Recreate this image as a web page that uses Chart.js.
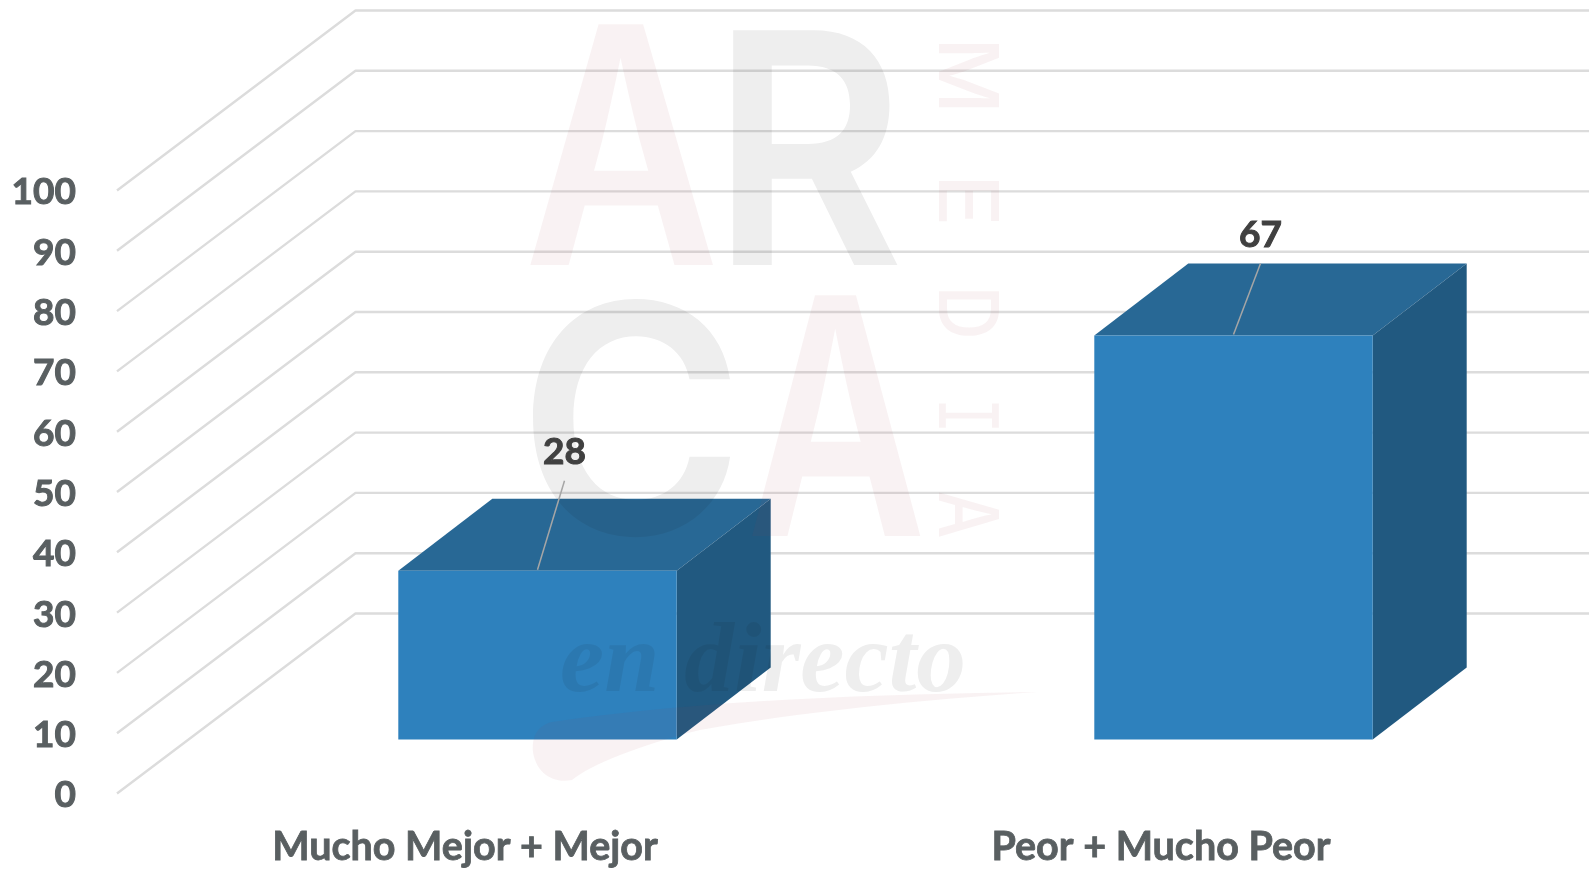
<!DOCTYPE html>
<html>
<head>
<meta charset="utf-8">
<title>Mucho Mejor / Peor</title>
<script src="https://cdn.jsdelivr.net/npm/chart.js@4/dist/chart.umd.min.js"></script>
<style>
  html, body { margin: 0; background: #fff; overflow: hidden; }
  canvas { display: block; }
</style>
</head>
<body>
<canvas id="chart" width="1589" height="869"></canvas>
<script>
const categories = ["Mucho Mejor + Mejor", "Peor + Mucho Peor"];
const values = [28, 67];
const tickLabels = [0, 10, 20, 30, 40, 50, 60, 70, 80, 90, 100];

// fake 3D: floor depth from the axis plane to the back wall
const floorDepth = { x: 238.5, y: 180 };
const barShift = { x: 72.5, y: 54 };
const barDepth = { x: 94, y: 72 };
const leaderRise = [90, 72];

const gridColor = "#dcdcdc";
const frontColor = "#2e81bd";
const topColor = "#286895";
const sideColor = "#215980";
const textColor = "#595f61";
const grey = "#eeeeee";
const pink = "rgba(170, 60, 70, 0.065)";

function fitText(ctx, text, font, x0, y0, w, h) {
  ctx.font = font;
  ctx.textAlign = "left";
  ctx.textBaseline = "alphabetic";
  const m = ctx.measureText(text);
  const tw = m.actualBoundingBoxLeft + m.actualBoundingBoxRight;
  const th = m.actualBoundingBoxAscent + m.actualBoundingBoxDescent;
  ctx.save();
  ctx.translate(x0, y0);
  ctx.scale(w / tw, h / th);
  ctx.fillText(text, m.actualBoundingBoxLeft, m.actualBoundingBoxAscent);
  ctx.restore();
}

function fitRotated(ctx, text, font, x0, x1, y0, y1) {
  ctx.save();
  ctx.translate(x1, y0);
  ctx.rotate(Math.PI / 2);
  fitText(ctx, text, font, 0, 0, y1 - y0, x1 - x0);
  ctx.restore();
}

const wallsPlugin = {
  id: "walls",
  // Lato sits a little high on its middle baseline, nudge the y labels down
  afterLayout(chart) {
    const yScale = chart.scales.y;
    const drawLabels = yScale.drawLabels.bind(yScale);
    yScale.drawLabels = (area) => {
      chart.ctx.save();
      chart.ctx.translate(0, 2);
      drawLabels(area);
      chart.ctx.restore();
    };
  },
  beforeDatasetsDraw(chart) {
    const { ctx, scales, chartArea } = chart;
    const width = chartArea.right - chartArea.left;
    ctx.save();
    ctx.strokeStyle = gridColor;
    ctx.lineWidth = 2.4;
    ctx.lineJoin = "round";
    tickLabels.forEach((tick) => {
      const y = scales.y.getPixelForValue(tick);
      ctx.beginPath();
      ctx.moveTo(chartArea.left, y);
      ctx.lineTo(chartArea.left + floorDepth.x, y - floorDepth.y);
      ctx.lineTo(chartArea.left + floorDepth.x + width, y - floorDepth.y);
      ctx.stroke();
    });
    ctx.restore();
  },
  beforeDatasetDraw(chart) {
    const { ctx } = chart;
    ctx.save();
    ctx.translate(barShift.x, -barShift.y);
    chart.getDatasetMeta(0).data.forEach((bar) => {
      const left = bar.x - bar.width / 2;
      const right = bar.x + bar.width / 2;
      ctx.fillStyle = topColor;
      ctx.beginPath();
      ctx.moveTo(left, bar.y);
      ctx.lineTo(left + barDepth.x, bar.y - barDepth.y);
      ctx.lineTo(right + barDepth.x, bar.y - barDepth.y);
      ctx.lineTo(right, bar.y);
      ctx.closePath();
      ctx.fill();
      ctx.fillStyle = sideColor;
      ctx.beginPath();
      ctx.moveTo(right, bar.y);
      ctx.lineTo(right + barDepth.x, bar.y - barDepth.y);
      ctx.lineTo(right + barDepth.x, bar.base - barDepth.y);
      ctx.lineTo(right, bar.base);
      ctx.closePath();
      ctx.fill();
    });
  },
  afterDatasetDraw(chart) {
    chart.ctx.restore();
  },
};

const watermarkPlugin = {
  id: "watermark",
  afterDatasetsDraw(chart) {
    const { ctx } = chart;
    const letterFont = "600 300px Inter";
    const smallFont = "500 100px Inter";
    ctx.save();
    ctx.fillStyle = pink;
    fitText(ctx, "A", letterFont, 528, 22, 189, 243);
    fitText(ctx, "A", letterFont, 750, 293, 174, 243);
    fitRotated(ctx, "M", smallFont, 939, 999, 44, 108);
    fitRotated(ctx, "E", smallFont, 939, 999, 181, 222);
    fitRotated(ctx, "D", smallFont, 939, 999, 291, 336);
    fitRotated(ctx, "I", "100px 'DejaVu Sans Mono'", 939, 999, 403, 428);
    fitRotated(ctx, "A", smallFont, 939, 999, 492, 537);
    ctx.beginPath();
    ctx.moveTo(1037, 692);
    ctx.bezierCurveTo(880, 694, 700, 700, 552, 722);
    ctx.bezierCurveTo(535, 726, 532, 740, 533, 752);
    ctx.bezierCurveTo(536, 772, 552, 784, 572, 780);
    ctx.bezierCurveTo(590, 765, 640, 745, 700, 730);
    ctx.bezierCurveTo(800, 712, 920, 700, 1037, 692);
    ctx.fill();
    ctx.globalCompositeOperation = "multiply";
    ctx.fillStyle = grey;
    fitText(ctx, "R", letterFont, 730, 28, 171, 237);
    fitText(ctx, "C", letterFont, 532, 295, 202, 244);
    fitText(ctx, "en directo", "italic 700 100px 'Liberation Serif'", 562, 622, 401, 70);
    ctx.restore();
  },
};

const valueLabelPlugin = {
  id: "valueLabels",
  afterDraw(chart) {
    const { ctx } = chart;
    ctx.save();
    chart.getDatasetMeta(0).data.forEach((bar, i) => {
      const x = bar.x + barShift.x;
      const y = bar.y - barShift.y;
      ctx.strokeStyle = "#a6a6a6";
      ctx.lineWidth = 1.5;
      ctx.beginPath();
      ctx.moveTo(x, y - 1);
      ctx.lineTo(x + 27, y - leaderRise[i]);
      ctx.stroke();
      ctx.fillStyle = "#404040";
      ctx.strokeStyle = "#404040";
      ctx.lineWidth = 1;
      ctx.font = "700 37px Lato";
      ctx.textAlign = "center";
      ctx.textBaseline = "middle";
      ctx.fillText(String(values[i]), x + 27, y - leaderRise[i] - 28.5);
      ctx.strokeText(String(values[i]), x + 27, y - leaderRise[i] - 28.5);
    });
    ctx.restore();
  },
};

new Chart("chart", {
  type: "bar",
  plugins: [wallsPlugin, watermarkPlugin, valueLabelPlugin],
  data: {
    labels: categories,
    datasets: [
      {
        data: values,
        backgroundColor: frontColor,
        borderWidth: 0,
        barPercentage: 0.4,
        categoryPercentage: 1,
        clip: false,
      },
    ],
  },
  options: {
    responsive: false,
    animation: false,
    layout: { padding: { top: 190.5, right: 80, left: 0, bottom: 0 } },
    plugins: { legend: { display: false }, tooltip: { enabled: false } },
    scales: {
      x: {
        grid: { display: false, drawTicks: false },
        border: { display: false },
        ticks: {
          color: textColor,
          padding: 30,
          maxRotation: 0,
          textStrokeColor: textColor,
          textStrokeWidth: 0.8,
          font: { family: "Lato", weight: "700", size: 39.5 },
        },
        afterFit: (scale) => {
          scale.height = 75.5;
        },
      },
      y: {
        min: 0,
        max: 100,
        grid: { display: false, drawTicks: false },
        border: { display: false },
        afterBuildTicks: (scale) => {
          scale.ticks = tickLabels.map((value) => ({ value }));
        },
        ticks: {
          color: textColor,
          padding: 41,
          textStrokeColor: textColor,
          textStrokeWidth: 1,
          font: { family: "Lato", weight: "700", size: 37 },
        },
        afterFit: (scale) => {
          scale.width = 117;
        },
      },
    },
  },
});
</script>
</body>
</html>
